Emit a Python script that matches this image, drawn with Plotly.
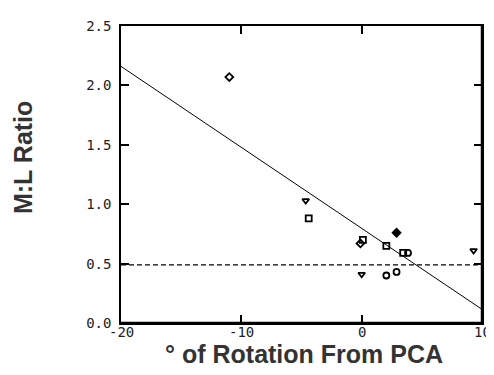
import plotly.graph_objects as go

# Data
rotation = [-11.0, -4.65, -4.4, -0.1, 0.1, 0.0, 2.05, 2.05, 2.9, 3.45, 3.85, 9.3]
ml_ratio = [2.07, 1.03, 0.88, 0.67, 0.70, 0.41, 0.65, 0.40, 0.43, 0.59, 0.59, 0.61]
symbols = ["diamond-open", "triangle-down-open", "square-open", "diamond-open",
           "square-open", "triangle-down-open", "square-open", "circle-open",
           "circle-open", "square-open", "circle-open", "triangle-down-open"]
filled_x = [2.9]
filled_y = [0.76]

fit_x = [-20, 10]
fit_y = [2.16, 0.115]
ref_x = [-20, 10]
ref_y = [0.49, 0.49]

x_ticks = [-20, -10, 0, 10]
x_ticklabels = ["-20", "-10", "0", "10"]
y_ticks = [0.0, 0.5, 1.0, 1.5, 2.0, 2.5]
y_ticklabels = ["0.0", "0.5", "1.0", "1.5", "2.0", "2.5"]

fig = go.Figure()
fig.add_trace(go.Scatter(x=fit_x, y=fit_y, mode="lines",
                         line=dict(color="black", width=1), hoverinfo="skip"))
fig.add_trace(go.Scatter(x=ref_x, y=ref_y, mode="lines",
                         line=dict(color="black", width=1.2, dash="5px,3px"), hoverinfo="skip"))
fig.add_trace(go.Scatter(x=rotation, y=ml_ratio, mode="markers",
                         marker=dict(symbol=symbols, size=6, color="black",
                                     line=dict(color="black", width=1.8))))
fig.add_trace(go.Scatter(x=filled_x, y=filled_y, mode="markers",
                         marker=dict(symbol="diamond", size=8, color="black")))

font_tick = dict(family="DejaVu Sans Mono, monospace", size=14, color="#222")
fig.update_xaxes(range=[-20, 10], tickvals=x_ticks, ticks="inside", ticklen=8,
                 tickwidth=1.5, tickcolor="black", showline=True, linecolor="black",
                 linewidth=1.5, mirror="ticks", showgrid=False, zeroline=False,
                 showticklabels=False)
fig.update_yaxes(range=[0, 2.5], tickvals=y_ticks, ticktext=y_ticklabels, ticks="inside",
                 ticklen=8, tickwidth=1.5, tickcolor="black", showline=True,
                 linecolor="black", linewidth=1.5, mirror="ticks", showgrid=False,
                 zeroline=False, tickfont=font_tick, ticklabelstandoff=5)

# x tick labels placed tight under the axis, as in the reference
for xv, lab in zip(x_ticks, x_ticklabels):
    fig.add_annotation(text=lab, x=xv, xref="x", y=-0.03, yref="paper",
                       xanchor="center", yanchor="middle", showarrow=False,
                       font=font_tick)

# thicker bottom and right frame lines
fig.add_shape(type="line", xref="paper", yref="paper", x0=0, x1=1, y0=0, y1=0,
              line=dict(color="black", width=2.5))
fig.add_shape(type="line", xref="paper", yref="paper", x0=1, x1=1, y0=0, y1=1,
              line=dict(color="black", width=2.5))

title_font = dict(family="Liberation Sans, Arial, sans-serif", size=25, color="#333")
fig.add_annotation(text="<b>° of Rotation From PCA</b>", xref="paper", yref="paper",
                   x=0.507, y=-0.104, xanchor="center", yanchor="middle",
                   showarrow=False, font=title_font)
fig.add_annotation(text="<b>M:L Ratio</b>", xref="paper", yref="paper",
                   x=-0.272, y=0.558, xanchor="center", yanchor="middle",
                   textangle=-90, showarrow=False, font=title_font)

# the page body adds an 8px offset; size the figure so the plot lands where the reference has it
fig.update_layout(width=486, height=367, showlegend=False,
                  margin=dict(l=113, r=10, t=14, b=52),
                  plot_bgcolor="white", paper_bgcolor="white")

fig.write_html("out.html")
